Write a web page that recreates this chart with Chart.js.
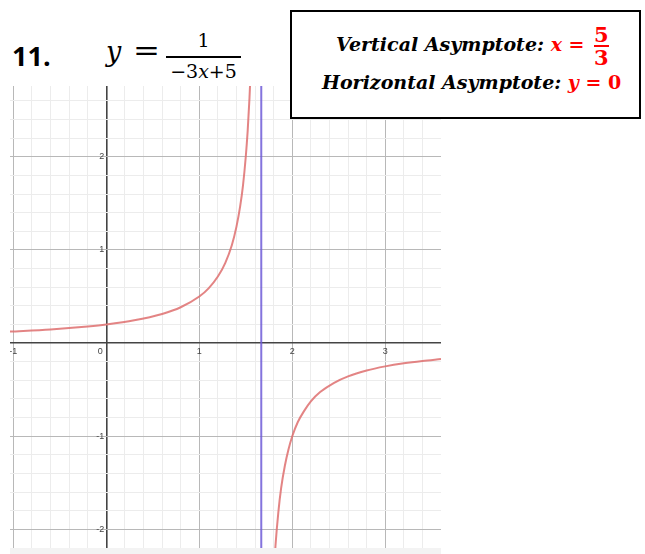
<!DOCTYPE html>
<html>
<head>
<meta charset="utf-8">
<script src="https://cdn.jsdelivr.net/npm/chart.js"></script>
<style>
  html, body { margin: 0; padding: 0; background: #fff; }
  body { width: 645px; height: 554px; position: relative; overflow: hidden; font-family: "DejaVu Serif", serif; }
  #plot { position: absolute; left: 10px; top: 86px; width: 431px; height: 462px; }
  #bottomBand { position: absolute; left: 10px; top: 548px; width: 431px; height: 6px; background: #f3f3f3; }
  .num { position: absolute; left: 12px; top: 37px; font: bold 27px "Open Sans", "Liberation Sans", sans-serif; }
  .eq { position: absolute; left: 0; top: 0; font-family: "DejaVu Serif", serif; }
  .eq .y { position: absolute; left: 106px; top: 36px; font-size: 27px; font-style: italic; }
  .eq .eqs { position: absolute; left: 133px; top: 34px; font-size: 28px; transform: scaleX(1.15); transform-origin: left; }
  .eq .top { position: absolute; left: 166px; width: 75px; top: 29px; text-align: center; font-size: 19px; }
  .eq .bar { position: absolute; left: 166px; width: 75px; top: 56px; border-top: 2.5px solid #000; }
  .eq .bot { position: absolute; left: 166px; width: 75px; top: 60px; text-align: center; font-size: 19px; }
  #box { position: absolute; left: 290px; top: 10px; width: 347px; height: 105px; border: 2px solid #000; background: #fff; }
  .line { position: absolute; font: bold italic 19px "DejaVu Serif", serif; white-space: nowrap; }
  .red { color: #f00; font-style: normal; }
  .red i { font-style: italic; }
  .fr { display: inline-block; vertical-align: middle; text-align: center; font-style: normal; font-size: 21px; line-height: 21px; margin-left: 3px; }
  .fr span { display: block; }
  .fr .b { border-top: 2px solid #f00; }
</style>
</head>
<body>
<div class="num">11.</div>
<div class="eq">
  <span class="y">y</span>
  <span class="eqs">=</span>
  <span class="top">1</span>
  <span class="bar"></span>
  <span class="bot">&minus;3<i>x</i>+5</span>
</div>

<div id="plot"><canvas id="chart"></canvas></div>
<div id="bottomBand"></div>

<div id="box">
  <div class="line" style="left: 44px; top: 12px;">Vertical Asymptote: <span class="red"><i>x</i> = <span class="fr"><span>5</span><span class="b">3</span></span></span></div>
  <div class="line" style="left: 30px; top: 59px;">Horizontal Asymptote: <span class="red"><i>y</i> = 0</span></div>
</div>

<script>
// curve points
const leftX = [-1.04, -0.6, -0.2, 0, 0.3, 0.6, 0.8, 1.0, 1.1, 1.2, 1.28, 1.35, 1.4, 1.44, 1.47, 1.5, 1.52, 1.54, 1.556];
const leftY = [0.123, 0.147, 0.179, 0.2, 0.244, 0.313, 0.385, 0.5, 0.588, 0.714, 0.862, 1.05, 1.25, 1.47, 1.69, 2.0, 2.27, 2.63, 3.0];
const rightX = [1.8, 1.82, 1.85, 1.88, 1.92, 1.96, 2.0, 2.06, 2.13, 2.2, 2.3, 2.45, 2.6, 2.8, 3.0, 3.2, 3.4, 3.6];
const rightY = [-2.5, -2.17, -1.82, -1.56, -1.32, -1.14, -1.0, -0.847, -0.725, -0.625, -0.526, -0.426, -0.357, -0.294, -0.25, -0.217, -0.192, -0.172];
const asymX = [5 / 3, 5 / 3];
const asymY = [-2.2, 2.76];

const xTickLabels = [-1, 0, 1, 2, 3];
const yTickLabels = [-2, -1, 1, 2];

const xMin = -1.036, xMax = 3.6;
const yMin = -2.2, yMax = 2.76;

function toPoints(xs, ys) {
    return xs.map((x, i) => ({ x: x, y: ys[i] }));
}

function gridTicks(min, max) {
    const ticks = [];
    for (let k = Math.ceil(min * 5); k <= Math.floor(max * 5); k++) {
        ticks.push({ value: k / 5 });
    }
    return ticks;
}

function gridColor(ctx) {
    const v = ctx.tick.value;
    if (Math.abs(v) < 1e-6) return "#444";
    if (Math.abs(v - Math.round(v)) < 1e-6) return "#b8b8b8";
    return "#ececec";
}

function gridWidth(ctx) {
    return Math.abs(ctx.tick.value) < 1e-6 ? 1.6 : 1;
}

// tick numbers drawn next to the axes
const axisLabels = {
    id: "axisLabels",
    afterDatasetsDraw(chart) {
        const ctx = chart.ctx;
        const xs = chart.scales.x, ys = chart.scales.y;
        const x0 = xs.getPixelForValue(0), y0 = ys.getPixelForValue(0);
        ctx.save();
        ctx.font = "9px 'Liberation Sans', Arial, sans-serif";
        ctx.fillStyle = "#444";
        ctx.textBaseline = "middle";
        xTickLabels.forEach(v => {
            let px = xs.getPixelForValue(v);
            ctx.textAlign = "center";
            if (v === 0) px -= 6;
            ctx.fillText(String(v), px, y0 + 8);
        });
        ctx.textAlign = "right";
        yTickLabels.forEach(v => {
            ctx.fillText(String(v), x0 - 2, ys.getPixelForValue(v));
        });
        ctx.restore();
    }
};

const curveColor = "rgba(222, 110, 110, 0.85)";

new Chart(document.getElementById("chart"), {
    type: "scatter",
    data: {
        datasets: [
            { data: toPoints(asymX, asymY), showLine: true, borderColor: "rgba(110, 90, 215, 0.85)", borderWidth: 2, pointRadius: 0 },
            { data: toPoints(leftX, leftY), showLine: true, borderColor: curveColor, borderWidth: 2, pointRadius: 0, cubicInterpolationMode: "monotone" },
            { data: toPoints(rightX, rightY), showLine: true, borderColor: curveColor, borderWidth: 2, pointRadius: 0, cubicInterpolationMode: "monotone" }
        ]
    },
    options: {
        responsive: true,
        maintainAspectRatio: false,
        animation: false,
        layout: { padding: 0 },
        plugins: { legend: { display: false }, tooltip: { enabled: false } },
        scales: {
            x: {
                type: "linear", min: xMin, max: xMax,
                afterBuildTicks: s => { s.ticks = gridTicks(xMin, xMax); },
                ticks: { display: false },
                border: { display: false },
                grid: { color: gridColor, lineWidth: gridWidth, drawTicks: false }
            },
            y: {
                type: "linear", min: yMin, max: yMax,
                afterBuildTicks: s => { s.ticks = gridTicks(yMin, yMax); },
                ticks: { display: false },
                border: { display: false },
                grid: { color: gridColor, lineWidth: gridWidth, drawTicks: false }
            }
        }
    },
    plugins: [axisLabels]
});
</script>
</body>
</html>
